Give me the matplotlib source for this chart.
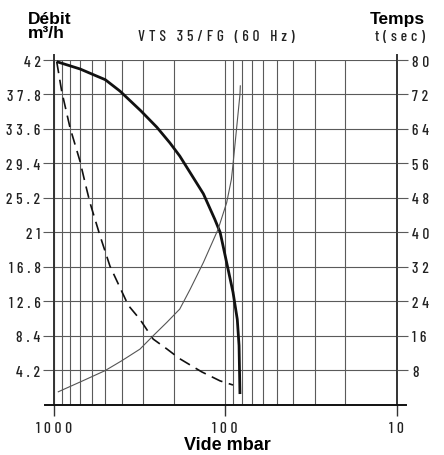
import matplotlib
matplotlib.use("Agg")
import matplotlib.pyplot as plt
from matplotlib import font_manager
import numpy as np

# curve data (x = vide in mbar)
debit_p = [960, 700, 600, 500, 410, 310, 250, 210, 184, 134, 115, 107, 98, 90, 85, 83, 82]
debit = [41.8, 40.9, 40.3, 39.6, 38.2, 35.8, 33.8, 31.9, 30.3, 25.7, 22.6, 21.0, 17.3, 13.7, 10.4, 7.2, 1.3]

dash_p = [960, 898, 804, 703, 657, 614, 537, 470, 407, 367, 314, 263, 219, 184, 137, 107, 90]
dash_v = [41.8, 38.2, 33.8, 29.7, 27.1, 24.6, 20.6, 16.9, 14.1, 12.1, 10.4, 8.0, 6.8, 5.6, 4.0, 2.9, 2.4]

temps_p = [940, 672, 502, 401, 314, 263, 219, 184, 160, 134, 110, 98, 92, 90, 82, 81.6]
temps = [3.0, 5.6, 7.9, 10.2, 12.9, 16.0, 19.1, 22.2, 26.8, 33.0, 40.7, 46.9, 52.3, 55.8, 72.0, 74.0]

left_ticks = [4.2, 8.4, 12.6, 16.8, 21, 25.2, 29.4, 33.6, 37.8, 42]
left_labels = ["4.2", "8.4", "12.6", "16.8", "21", "25.2", "29.4", "33.6", "37.8", "42"]
right_ticks = [8, 16, 24, 32, 40, 48, 56, 64, 72, 80]
x_ticks = [1000, 100, 10]

names = {f.name for f in font_manager.fontManager.ttflist}
narrow = next((n for n in ["Barlow Condensed", "Roboto Condensed", "Liberation Sans Narrow"]
               if n in names), "DejaVu Sans")
nfam = [narrow, "DejaVu Sans"]
bold_fam = ["Liberation Sans", "DejaVu Sans"]
gap = "\u2005" if narrow != "DejaVu Sans" else "\u200a"


def track(s):
    return gap.join(s)


grid_c = "#5a5a5a"
txt_c = "#222222"
fs = 11
fw = "medium"

fig = plt.figure(figsize=(4.44, 4.56), dpi=100)
ax = fig.add_axes([0.1209, 0.1103, 0.7725, 0.7559])
ax.set_xscale("log")
ax.set_xlim(1000, 10)
ax.set_ylim(0, 42)

ax.grid(axis="x", which="both", color=grid_c, lw=0.8)
ax.grid(axis="y", which="major", color=grid_c, lw=0.8)
ax.set_axisbelow(True)

ax.set_yticks(left_ticks)
ax.set_yticklabels([track(s) for s in left_labels], family=nfam, fontsize=fs,
                   weight=fw, color=txt_c)
ax.set_xticks(x_ticks)
ax.set_xticklabels([track(str(v)) for v in x_ticks], family=nfam, fontsize=fs,
                   weight=fw, color=txt_c)
ax.tick_params(axis="y", length=8, width=0.8, color=grid_c, pad=1.5)
ax.tick_params(axis="x", which="major", length=8, width=1.0, color="#333333", pad=4)
ax.tick_params(axis="x", which="minor", length=0)

ax2 = ax.twinx()
ax2.set_ylim(0, 80)
ax2.set_yticks(right_ticks)
ax2.set_yticklabels([track(str(v)) for v in right_ticks], family=nfam, fontsize=fs,
                    weight=fw, color=txt_c)
ax2.tick_params(axis="y", length=8, width=0.8, color=grid_c, pad=3)

for a in (ax, ax2):
    for s in a.spines.values():
        s.set_visible(False)

# axis lines extend a bit past the plot area, like the original
ax.plot([0, 0], [0, 1.015], transform=ax.transAxes, color="#333333", lw=1.4, clip_on=False)
ax.plot([1, 1], [0, 1.015], transform=ax.transAxes, color="#333333", lw=1.4, clip_on=False)
ax.plot([-0.026, 1.026], [0, 0], transform=ax.transAxes, color="#111111", lw=1.4, clip_on=False)

ax.plot(debit_p, debit, color="#111111", lw=2.0, solid_capstyle="butt", solid_joinstyle="round")
ax.plot(dash_p, dash_v, color="#111111", lw=1.2, dashes=(7, 4))
ax2.plot(temps_p, temps, color="#555555", lw=0.8, solid_joinstyle="round")

fig.text(216 / 444, 1 - 37 / 456, track("VTS 35/FG (60 Hz)"), family=nfam, fontsize=fs,
         weight=fw, color=txt_c, ha="center", va="center")
fig.text(28 / 444, 1 - 12 / 456, "Débit\nm³/h", family=bold_fam, fontsize=12.5,
         weight="bold", ha="left", va="top", linespacing=0.95)
fig.text(425 / 444, 1 - 12 / 456, "Temps", family=bold_fam, fontsize=12.5,
         weight="bold", ha="right", va="top")
fig.text(425 / 444, 1 - 37 / 456, track("t(sec)"), family=nfam, fontsize=fs,
         weight=fw, color=txt_c, ha="right", va="center")
fig.text(227 / 444, 1 - 446 / 456, "Vide mbar", family=bold_fam, fontsize=13,
         weight="bold", ha="center", va="center")

fig.savefig("out.png", dpi=100)
